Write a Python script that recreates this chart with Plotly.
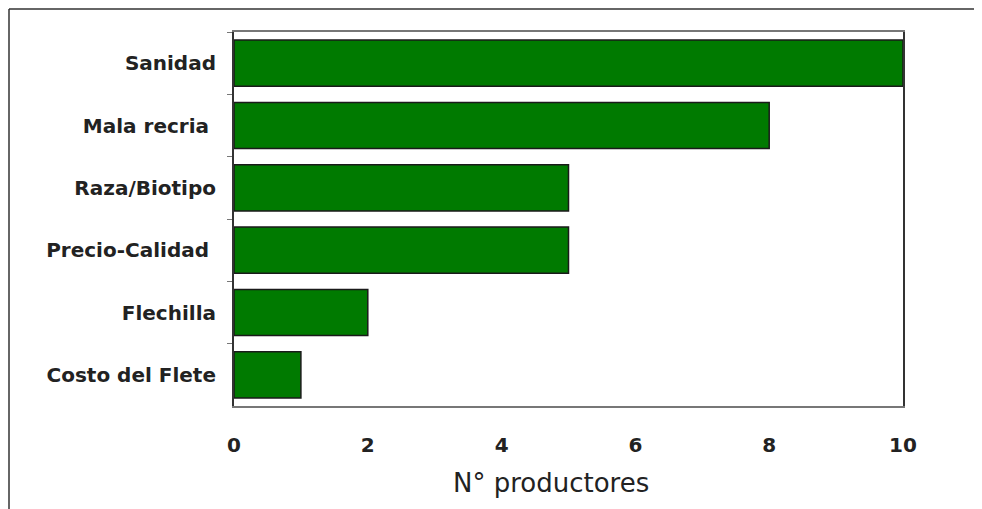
import plotly.graph_objects as go

categories = ["Sanidad", "Mala recria ", "Raza/Biotipo", "Precio-Calidad ", "Flechilla", "Costo del Flete"]
values = [10, 8, 5, 5, 2, 1]
x_ticks = [0, 2, 4, 6, 8, 10]
x_title = "N° productores"

OFF = 8  # page body margin
W, H = 982 - OFF, 509 - OFF
L, T = 234 - OFF, 32 - OFF
pw, ph = 669, 374
R, B = W - L - pw, H - T - ph

def px_x(x):
    return (x - OFF - L) / pw

def px_y(y):
    return (T + ph - (y - OFF)) / ph

fig = go.Figure(go.Bar(
    x=values, y=categories, orientation="h",
    marker=dict(color="#007A00", line=dict(color="#1a1a1a", width=1.5)),
    width=0.74,
))

font_lbl = dict(family="DejaVu Sans", size=20, color="#222", weight="bold")

fig.update_layout(
    width=W, height=H,
    margin=dict(l=L, r=R, t=T, b=B),
    paper_bgcolor="white", plot_bgcolor="white",
    showlegend=False,
    bargap=0.26,
    xaxis=dict(
        range=[0, 10], tickvals=x_ticks, ticks="", showgrid=False, zeroline=False,
        showline=True, linecolor="#777", linewidth=2, mirror=True,
        tickfont=font_lbl, ticklabelstandoff=20,
    ),
    yaxis=dict(
        autorange="reversed", ticks="outside", ticklen=5, tickcolor="#777", tickwidth=1,
        tickson="boundaries", showgrid=False, zeroline=False,
        showline=True, linecolor="#333", linewidth=2, mirror=True,
        tickfont=font_lbl, ticklabelstandoff=12,
    ),
    annotations=[dict(
        text=x_title, xref="paper", yref="paper", x=px_x(551), y=px_y(483),
        xanchor="center", yanchor="middle", showarrow=False,
        font=dict(family="DejaVu Sans", size=26, color="#222"),
    )],
    shapes=[
        dict(type="line", xref="paper", yref="paper", x0=px_x(9), x1=px_x(990), y0=px_y(9), y1=px_y(9),
             line=dict(color="#333", width=1.5)),
        dict(type="line", xref="paper", yref="paper", x0=px_x(9), x1=px_x(9), y0=px_y(9), y1=px_y(515),
             line=dict(color="#333", width=1.5)),
    ],
)

fig.write_html("out.html")
